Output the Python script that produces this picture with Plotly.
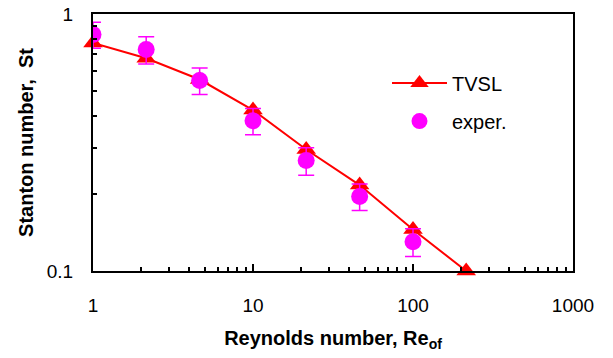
import plotly.graph_objects as go

# Reynolds numbers of the calculated and measured points
re_of = [1, 2.15, 4.64, 10, 21.5, 46.4, 100, 215]

# TVSL model prediction of the Stanton number
st_tvsl = [0.772, 0.673, 0.556, 0.423, 0.297, 0.216, 0.145, 0.1]

# Experimental Stanton numbers with their uncertainty
re_exp = [1, 2.15, 4.64, 10, 21.5, 46.4, 100]
st_exp = [0.832, 0.727, 0.551, 0.384, 0.269, 0.195, 0.130]
st_exp_err = [0.097, 0.088, 0.065, 0.045, 0.033, 0.023, 0.016]

FONT = "Liberation Sans, Arial, sans-serif"

fig = go.Figure()

fig.add_trace(go.Scatter(
    x=re_of, y=st_tvsl, name="TVSL", mode="lines+markers",
    line=dict(color="#ff0000", width=2),
    marker=dict(symbol="triangle-up", size=17, color="#ff0000"),
    cliponaxis=False, legendgroup="a",
))

fig.add_trace(go.Scatter(
    x=re_exp, y=st_exp, name="exper.", mode="markers",
    marker=dict(symbol="circle", size=17, color="#ff00ff"),
    error_y=dict(type="data", array=st_exp_err, visible=True,
                 color="#ff00ff", thickness=1.5, width=8),
    legendgroup="b",
))

axis_common = dict(
    type="log", showgrid=False, zeroline=False,
    showline=True, linecolor="black", linewidth=2, mirror=True,
    ticks="inside", ticklen=7, tickwidth=1.5, tickcolor="black",
    dtick=1,
    minor=dict(ticks="inside", ticklen=4, tickwidth=1.5, tickcolor="black",
               dtick="D1", showgrid=False),
    tickfont=dict(family=FONT, size=19, color="black"),
    automargin=False,
)

fig.update_xaxes(
    **axis_common, range=[0, 3],
    ticklabelstandoff=16,
    title=dict(text="<b>Reynolds number, Re<sub>of</sub></b>",
               font=dict(family=FONT, size=20, color="black"), standoff=16),
)
fig.update_yaxes(
    **axis_common, range=[-1, 0],
    ticklabelstandoff=14,
    title=dict(text="<b>Stanton number,  St</b>",
               font=dict(family=FONT, size=20, color="black"), standoff=8),
)

fig.update_layout(
    width=613, height=358,
    margin=dict(l=93, r=40, t=14, b=87),
    paper_bgcolor="white", plot_bgcolor="white",
    font=dict(family=FONT, color="black"),
    showlegend=True,
    legend=dict(
        x=0.6125, y=0.807, xanchor="left", yanchor="top",
        traceorder="grouped", tracegroupgap=9, itemwidth=55,
        bgcolor="rgba(0,0,0,0)", borderwidth=0,
        font=dict(family=FONT, size=20, color="black"),
    ),
)

fig.write_html("out.html")
